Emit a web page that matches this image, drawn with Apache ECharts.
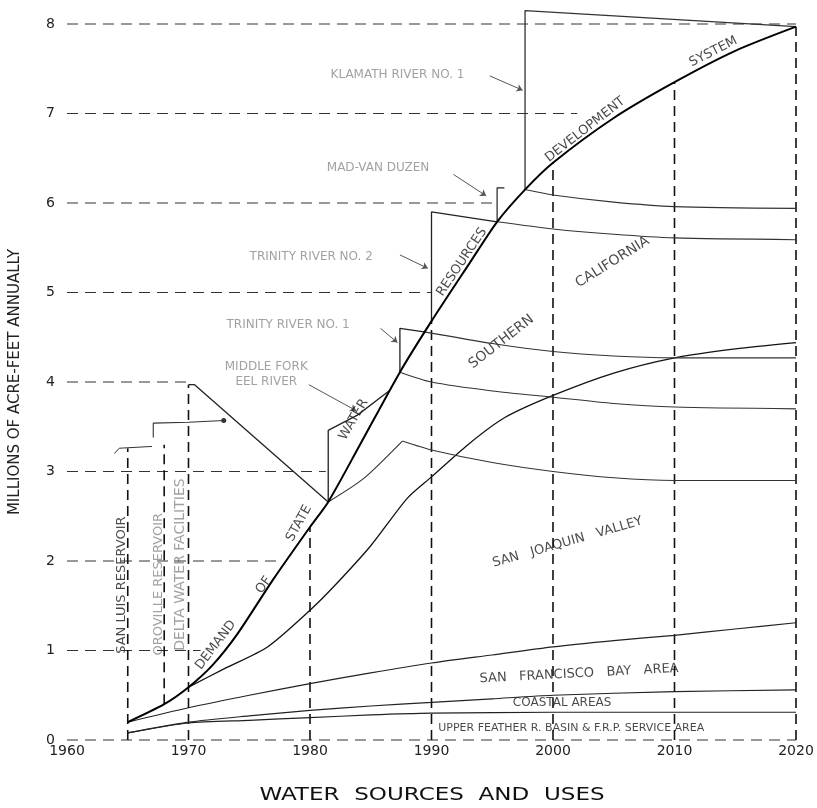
<!DOCTYPE html>
<html>
<head>
<meta charset="utf-8">
<script src="https://cdn.jsdelivr.net/npm/echarts@6/dist/echarts.min.js"></script>
<style>
    html, body { margin: 0; padding: 0; background: #fff; }
    #chart { width: 817px; height: 808px; }
</style>
</head>
<body>
<div id="chart"></div>
<script>
// x = year, y = millions of acre-feet annually
const yearTicks = [1960, 1970, 1980, 1990, 2000, 2010, 2020];
const valueTicks = [0, 1, 2, 3, 4, 5, 6, 7, 8];

// demand of state water resources development system
const demand = [[1965, 0.2], [1968, 0.4], [1970, 0.59], [1972, 0.84], [1974, 1.18], [1977, 1.8], [1980, 2.38],
    [1981.5, 2.66], [1984, 3.27], [1987.4, 4.11], [1990, 4.68], [1993, 5.3], [1995.4, 5.79], [1997.7, 6.15],
    [2000, 6.45], [2005, 6.95], [2010, 7.35], [2015, 7.7], [2020, 7.97]];
// area boundaries
const joaquinTop = [[1970, 0.59], [1973, 0.8], [1976.5, 1.04], [1980, 1.45], [1982, 1.72], [1985, 2.17], [1988, 2.7],
    [1990, 2.94], [1993, 3.3], [1996, 3.6], [2000, 3.85], [2005, 4.1], [2010, 4.27], [2015, 4.37], [2020, 4.44]];
const bayTop = [[1965, 0.2], [1970, 0.36], [1975, 0.5], [1980, 0.63], [1985, 0.75], [1990, 0.86], [1995, 0.95],
    [2000, 1.04], [2005, 1.11], [2010, 1.17], [2015, 1.24], [2020, 1.31]];
const coastalTop = [[1965, 0.08], [1970, 0.2], [1975, 0.27], [1980, 0.33], [1985, 0.38], [1990, 0.42], [1995, 0.46],
    [2000, 0.5], [2010, 0.54], [2020, 0.56]];
const featherTop = [[1965, 0.08], [1970, 0.19], [1975, 0.22], [1980, 0.25], [1985, 0.28], [1990, 0.3], [2000, 0.31],
    [2010, 0.31], [2020, 0.31]];

// supply steps and the yield lines that follow them
const deltaSupply = [[1970, 3.97], [1970.5, 3.97], [1981.5, 2.66]];
const eelStep = [[1981.5, 2.66], [1981.5, 3.46], [1983.9, 3.63], [1986.5, 3.9]];
const eelRise = [[1981.5, 2.66], [1984.4, 2.92], [1987.6, 3.34]];
const eelYield = [[1987.6, 3.34], [1990, 3.24], [1995, 3.1], [2000, 3.0], [2005, 2.93], [2010, 2.9], [2020, 2.9]];
const trinity1Step = [[1987.4, 4.11], [1987.4, 4.6], [1989.4, 4.56]];
const trinity1Yield = [[1989.4, 4.56], [1995, 4.43], [2000, 4.34], [2005, 4.29], [2010, 4.27], [2020, 4.27]];
const trinity1Low = [[1987.4, 4.11], [1990, 4.0], [1995, 3.9], [2000, 3.83], [2005, 3.76], [2010, 3.72], [2020, 3.7]];
const trinity2Step = [[1990, 4.68], [1990, 5.9], [1995.4, 5.79]];
const trinity2Yield = [[1995.4, 5.79], [2000, 5.71], [2005, 5.65], [2010, 5.61], [2020, 5.59]];
const madStep = [[1995.4, 5.79], [1995.4, 6.17], [1996, 6.17]];
const madYield = [[1997.7, 6.15], [2000, 6.09], [2005, 6.01], [2010, 5.96], [2020, 5.94]];
const klamathStep = [[1997.7, 6.15], [1997.7, 8.15], [2020, 7.97]];

// dashed guides
const gridLevels = [0, 1, 2, 3, 4, 5, 6, 7, 8];
const gridEnds = [2020, 1971, 1977.6, 1981.3, 1970, 1990, 1995.4, 2002, 2020];
const decadeYears = [1980, 1990, 2000, 2010, 2020];
const decadeTops = [2.38, 4.68, 6.45, 7.35, 7.97];
const facilityYears = [1965, 1968, 1970];
const facilityBottoms = [0, 0.4, 0];
const facilityTops = [3.26, 3.3, 3.97];
const sanLuisCap = [[1963.9, 3.2], [1964.3, 3.26], [1967, 3.28]];
const orovilleCap = [[1967.1, 3.38], [1967.1, 3.54], [1970, 3.55], [1972.9, 3.57]];

// leader arrows for the source names
const pointers = [
    [[1994.8, 7.42], [1997.5, 7.26]],
    [[1991.8, 6.32], [1994.5, 6.08]],
    [[1987.4, 5.42], [1989.7, 5.27]],
    [[1985.8, 4.6], [1987.2, 4.44]],
    [[1979.9, 3.97], [1983.8, 3.68]]
];

// text, year, value, rotation, size, faint
const notes = [
    ['KLAMATH RIVER NO. 1', 1987.2, 7.43, 0, 12, true],
    ['MAD-VAN DUZEN', 1985.6, 6.39, 0, 12, true],
    ['TRINITY RIVER NO. 2', 1980.1, 5.4, 0, 12, true],
    ['TRINITY RIVER NO. 1', 1978.2, 4.64, 0, 12, true],
    ['MIDDLE FORK\nEEL RIVER', 1976.4, 4.08, 0, 12, true],
    ['DEMAND', 1972.25, 1.06, 53, 13, false],
    ['OF', 1976.2, 1.73, 55, 13, false],
    ['STATE', 1979.1, 2.42, 61, 13, false],
    ['WATER', 1983.6, 3.58, 60, 13, false],
    ['RESOURCES', 1992.5, 5.34, 56, 13, false],
    ['DEVELOPMENT', 2002.65, 6.82, 38, 13, false],
    ['SYSTEM', 2013.2, 7.69, 27, 13, false],
    ['SOUTHERN', 1995.75, 4.45, 38, 14, false],
    ['CALIFORNIA', 2004.9, 5.34, 32, 14, false],
    ['SAN   JOAQUIN   VALLEY', 2001.2, 2.21, 16, 13, false],
    ['SAN   FRANCISCO   BAY   AREA', 2002.15, 0.74, 3, 13, false],
    ['COASTAL AREAS', 2000.75, 0.41, 0, 12, false],
    ['UPPER FEATHER R. BASIN & F.R.P. SERVICE AREA', 2001.5, 0.13, 0, 11, false],
    ['SAN LUIS RESERVOIR', 1964.5, 1.73, 90, 13, false],
    ['OROVILLE RESERVOIR', 1967.5, 1.74, 90, 13, true],
    ['DELTA WATER FACILITIES', 1969.3, 1.96, 90, 14, true]
];

const font = 'DejaVu Sans';
let chart = echarts.init(document.getElementById('chart'));

function path(data, width, color, dash, smooth) {
    return {
        type: 'line',
        data: data,
        symbol: 'none',
        smooth: smooth ? 0.25 : false,
        clip: false,
        silent: true,
        lineStyle: { width: width, color: color, type: dash || 'solid' }
    };
}

let series = [];
for (let i = 0; i < gridLevels.length; i++) {
    series.push(path([[1960, gridLevels[i]], [gridEnds[i], gridLevels[i]]], 1, '#333', [11, 7]));
}
for (let i = 0; i < decadeYears.length; i++) {
    series.push(path([[decadeYears[i], 0], [decadeYears[i], decadeTops[i]]], 1.6, '#111', [10, 6]));
}
for (let i = 0; i < facilityYears.length; i++) {
    series.push(path([[facilityYears[i], facilityBottoms[i]], [facilityYears[i], facilityTops[i]]], 1.6, '#111', [10, 6]));
}
series.push(path(sanLuisCap, 1, '#333'));
let oro = path(orovilleCap.slice(0, -1).concat([{ value: orovilleCap[orovilleCap.length - 1], symbol: 'circle', symbolSize: 5 }]), 1.1, '#333');
oro.itemStyle = { color: '#333' };
series.push(oro);

series.push(path(featherTop, 1.2, '#222', null, true));
series.push(path(coastalTop, 1.2, '#222', null, true));
series.push(path(bayTop, 1.2, '#222', null, true));
series.push(path(joaquinTop, 1.3, '#111', null, true));

series.push(path(deltaSupply, 1.3, '#222'));
series.push(path(eelStep, 1.3, '#222'));
series.push(path(eelRise, 1.1, '#333', null, true));
series.push(path(eelYield, 1.1, '#333', null, true));
series.push(path(trinity1Step, 1.3, '#222'));
series.push(path(trinity1Yield, 1.1, '#333', null, true));
series.push(path(trinity1Low, 1.1, '#333', null, true));
series.push(path(trinity2Step, 1.3, '#222'));
series.push(path(trinity2Yield, 1.1, '#333', null, true));
series.push(path(madStep, 1.2, '#222'));
series.push(path(madYield, 1.1, '#333', null, true));
series.push(path(klamathStep, 1.3, '#333'));

series.push(path(demand, 2, '#000', null, true));

series.push({
    type: 'lines',
    coordinateSystem: 'cartesian2d',
    silent: true,
    symbol: ['none', 'arrow'],
    symbolSize: 6,
    lineStyle: { color: '#555', width: 1, opacity: 1 },
    data: pointers.map(p => ({ coords: p }))
});

series.push({
    type: 'scatter',
    silent: true,
    symbolSize: 0,
    itemStyle: { color: 'rgba(0,0,0,0)' },
    data: notes.map(n => ({
        value: [n[1], n[2]],
        label: {
            show: true,
            position: 'inside',
            formatter: n[0],
            rotate: n[3],
            fontSize: n[4],
            fontFamily: font,
            color: n[5] ? '#8a8a8a' : '#1a1a1a',
            align: 'center',
            verticalAlign: 'middle',
            lineHeight: n[4] + 3
        }
    }))
});

let option = {
    animation: false,
    backgroundColor: '#fff',
    grid: { left: 66, right: 21, top: 24, bottom: 68, containLabel: false },
    xAxis: {
        type: 'value',
        min: 1960,
        max: 2020,
        interval: 10,
        axisLine: { show: false },
        axisTick: { show: false },
        splitLine: { show: false },
        axisLabel: {
            margin: 4,
            color: '#222',
            fontSize: 14,
            fontFamily: font,
            formatter: v => String(v)
        }
    },
    yAxis: {
        type: 'value',
        min: 0,
        max: 8,
        interval: 1,
        name: 'MILLIONS OF ACRE-FEET ANNUALLY',
        nameLocation: 'middle',
        nameRotate: 90,
        nameGap: 44,
        nameTextStyle: { color: '#222', fontSize: 15, fontFamily: font },
        axisLine: { show: false },
        axisTick: { show: false },
        splitLine: { show: false },
        axisLabel: { margin: 12, color: '#222', fontSize: 14, fontFamily: font }
    },
    graphic: [{
        type: 'text',
        x: 432,
        y: 795,
        scaleX: 1.28,
        style: {
            text: 'WATER  SOURCES  AND  USES',
            fontSize: 18,
            fontFamily: font,
            fill: '#111',
            align: 'center',
            verticalAlign: 'middle'
        }
    }],
    series: series
};
chart.setOption(option);
</script>
</body>
</html>
